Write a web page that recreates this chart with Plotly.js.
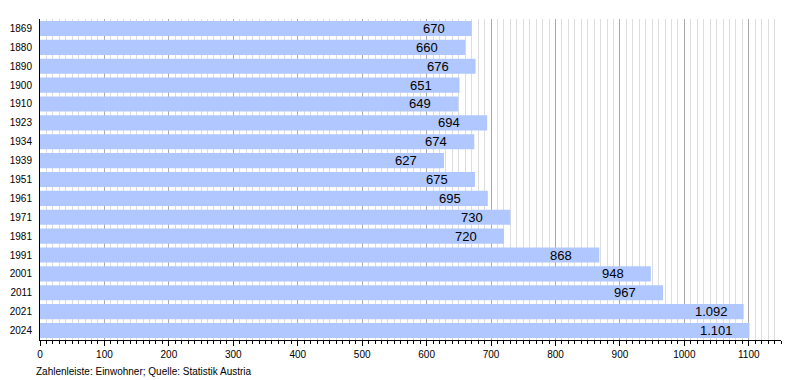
<!DOCTYPE html>
<html>
<head>
<meta charset="utf-8">
<script src="https://cdn.plot.ly/plotly-3.0.1.min.js"></script>
<style>html,body{margin:0;padding:0;background:#fff}#chart{width:800px;height:380px}</style>
</head>
<body>
<div id="chart"></div>
<script>
const years = ['1869','1880','1890','1900','1910','1923','1934','1939','1951','1961','1971','1981','1991','2001','2011','2021','2024'];
const population = [670,660,676,651,649,694,674,627,675,695,730,720,868,948,967,1092,1101];
const caption = 'Zahlenleiste: Einwohner; Quelle: Statistik Austria';

function fmt(v){
  return String(v).replace(/\B(?=(\d{3})+(?!\d))/g, '.');
}

const trace = {
  type: 'bar',
  orientation: 'h',
  y: years,
  x: population,
  marker: {color: 'rgb(176,200,255)', line: {width: 0}},
  width: 0.8,
  hoverinfo: 'skip'
};

// category axis: annotation y uses category index
const annotations = years.map((y, i) => ({
  x: population[i], y: i, xref: 'x', yref: 'y',
  text: fmt(population[i]), showarrow: false,
  xanchor: 'left', xshift: -51, yanchor: 'middle',
  font: {family: 'Liberation Sans, Arial, sans-serif', size: 13, color: '#000'}
}));
annotations.push({
  x: 0, y: 0, xref: 'paper', yref: 'paper', xanchor: 'left', yanchor: 'top',
  xshift: -6, yshift: -24,
  text: caption, showarrow: false,
  font: {family: 'Liberation Sans, Arial, sans-serif', size: 10, color: '#000'}
});

const layout = {
  width: 800, height: 380,
  margin: {l: 40, r: 19, t: 19, b: 40},
  paper_bgcolor: '#fff', plot_bgcolor: '#fff',
  showlegend: false,
  font: {family: 'Liberation Sans, Arial, sans-serif', size: 10, color: '#000'},
  xaxis: {
    range: [0, 1150], dtick: 100, tick0: 0,
    showgrid: true, gridcolor: '#aaaaaa', gridwidth: 1,
    zeroline: false,
    showline: true, linecolor: '#000', linewidth: 1,
    ticks: 'outside', ticklen: 5, tickcolor: '#000',
    tickfont: {size: 10},
    minor: {dtick: 10, tick0: 0, ticks: 'outside', ticklen: 3, tickcolor: '#000', showgrid: true, gridcolor: '#dddddd', gridwidth: 1},
    fixedrange: true
  },
  yaxis: {
    type: 'category',
    categoryorder: 'array', categoryarray: years,
    range: [years.length - 0.5, -0.5],
    showgrid: false, zeroline: false,
    showline: true, linecolor: '#000', linewidth: 1,
    ticks: '', ticklabelstandoff: 5,
    tickfont: {size: 10},
    fixedrange: true
  },
  annotations: annotations
};

Plotly.newPlot('chart', [trace], layout, {displayModeBar: false, staticPlot: true});
</script>
</body>
</html>
